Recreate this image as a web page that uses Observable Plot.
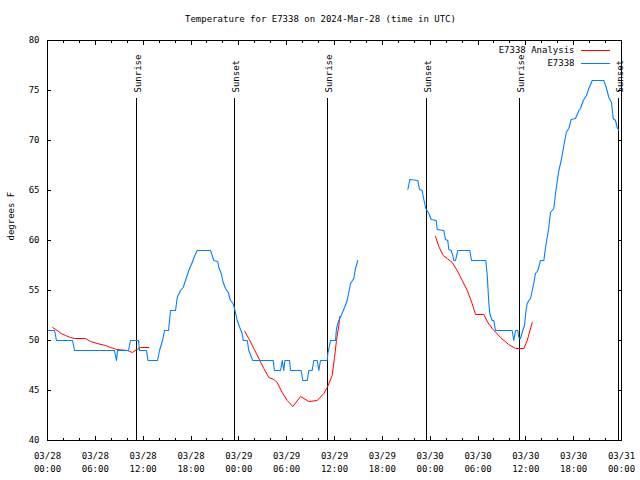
<!DOCTYPE html>
<html>
<head>
<meta charset="utf-8">
<script src="https://cdn.jsdelivr.net/npm/d3@7"></script>
<script src="https://cdn.jsdelivr.net/npm/@observablehq/plot@0.6"></script>
<style>
  html, body { margin: 0; padding: 0; background: #fff; }
</style>
</head>
<body>
<div id="chart"></div>
<script>
// ---------- data ----------
const chartTitle = "Temperature for E7338 on 2024-Mar-28 (time in UTC)";
const yAxisLabel = "degrees F";
const startTime = "2024-03-28T00:00:00Z";
const endTime = "2024-03-31T00:00:00Z";
const yTickValues = [40, 45, 50, 55, 60, 65, 70, 75, 80];
const seriesNames = ["E7338 Analysis", "E7338"];

// sun events, hours after 03/28 00:00 UTC
const sunEventHours = [11.2, 23.5, 35.15, 47.55, 59.25, 71.65];
const sunEventLabels = ["Sunrise", "Sunset", "Sunrise", "Sunset", "Sunrise", "Sunset"];

// station observations (E7338): hours after 03/28 00:00 UTC, degrees F
const obsHours = [
  0.13, 0.88, 1.13, 3.14, 3.39, 8.40, 8.66, 8.78, 10.16, 10.41, 11.41, 11.54, 12.42, 12.6, 13.80,
  14.05, 14.43, 14.68, 15.18, 15.43, 16.06, 16.27, 16.68, 17.02, 17.31, 17.72, 18.15, 18.48, 18.78,
  20.45, 20.66, 20.86, 21.36, 21.49, 21.79, 22.04, 22.33, 22.67, 22.95, 23.29, 23.58, 23.80, 24.12,
  24.42, 24.55, 25.05, 25.25, 25.75, 28.31, 28.47, 29.23, 29.44, 29.64, 29.77, 30.36, 30.48, 31.82,
  32.02, 32.58, 32.78, 33.20, 33.40, 33.83, 34.03, 34.24, 35.09, 35.16, 35.50, 36.13, 36.25, 36.54,
  36.84, 37.26, 37.59, 38.01, 38.42, 38.63, 38.92,
  45.20, 45.45, 46.45, 46.66, 47.00, 47.13, 47.29, 47.45, 47.83, 48.13, 48.76, 48.88, 49.71, 49.92,
  50.21, 50.34, 50.64, 50.84, 50.97, 51.18, 51.47, 52.97, 53.19, 54.98, 55.16, 55.36, 55.48, 55.78,
  55.98, 56.20, 58.29, 58.49, 58.71, 58.99, 59.12, 59.33, 59.62, 59.83, 60.00, 60.17, 60.37, 60.59,
  60.80, 61.00, 61.21, 61.50, 61.84, 62.26, 62.47, 62.68, 62.88, 63.09, 63.51, 63.72, 64.14, 64.44,
  64.77, 65.07, 65.39, 65.69, 66.23, 66.65, 66.86, 67.20, 67.61, 67.90, 68.33, 69.78, 70.12, 70.41,
  70.75, 70.96, 71.25, 71.46, 71.66
];
const obsTemps = [
  51, 51, 50, 50, 49, 49, 48, 49, 49, 50, 50, 49, 49, 48, 48,
  49, 50, 51, 51, 53, 53, 54.3, 55, 55.3, 56, 57, 57.8, 58.5, 59,
  59, 58.5, 58, 57.9, 57.3, 56.7, 55.8, 55.2, 54.8, 54, 53.7, 52.8, 52, 51.3,
  50.7, 50, 50, 49, 48, 48, 47, 47, 48, 47, 48, 48, 47, 47,
  46, 46, 47, 47, 48, 48, 47, 48, 48, 48.7, 50, 50, 51.2, 52,
  52.5, 53.3, 54, 55.7, 56.2, 57.2, 58,
  65.1, 66.1, 66, 65.1, 65, 64.4, 63.8, 63.2, 62.7, 62.1, 62, 61.1, 61, 60.1,
  60, 59.1, 59, 58.5, 58, 58, 59, 59, 58, 58, 56.5, 53.7, 52.7, 52,
  52, 51, 51, 50, 51, 51, 50.3, 50.2, 51, 51.5, 52.9, 53.7, 54, 54.2,
  55, 55.7, 56.7, 57, 58, 58, 59.3, 60.3, 61.3, 62.8, 63.2, 64.7, 67, 68,
  69.5, 70.8, 71.2, 72.1, 72.2, 73, 73.2, 74, 74.5, 75.2, 76, 76, 75.2, 74.3,
  73.8, 72.2, 72, 71.3, 71
];

// analysis (E7338 Analysis): hours after 03/28 00:00 UTC, degrees F
const anaHours = [
  0.66, 1.22, 1.72, 2.26, 2.89, 3.42, 4.77, 5.39, 6.23, 7.28, 7.90, 8.40, 8.66, 10.07, 10.62, 11.25,
  11.67, 12.71,
  24.75, 25.25, 25.88, 26.51, 27.13, 27.76, 28.39, 28.81, 29.44, 30.07, 30.77, 31.74, 32.78, 33.83,
  34.66, 35.09, 35.71, 36.00, 36.25, 36.54, 36.67,
  48.67, 49.08, 49.64, 50.14, 50.76, 51.39, 52.02, 52.65, 53.27, 53.69, 54.73, 55.23, 55.78, 56.82,
  57.85, 58.70, 59.75, 60.17, 60.80
];
const anaTemps = [
  51.3, 51, 50.7, 50.5, 50.3, 50.2, 50.2, 49.9, 49.7, 49.5, 49.3, 49.2, 49.1, 49, 48.8, 49.1,
  49.3, 49.3,
  50.9, 50.2, 49.2, 48.2, 47.2, 46.3, 46.1, 45.8, 44.8, 44, 43.4, 44.4, 43.9, 44,
  44.7, 45.3, 46.5, 48.3, 50, 51.5, 52.4,
  60.4, 59.4, 58.5, 58.2, 57.8, 57, 56, 55, 53.7, 52.6, 52.6, 51.8, 51.2, 50.3,
  49.6, 49.2, 49.2, 50, 51.8
];

// ---------- build ----------
const t0 = Date.parse(startTime);
const toDate = h => new Date(t0 + h * 3600e3);
const GAP_HOURS = 6;
function toSeries(hours, temps) {
  let seg = 0;
  return hours.map((h, i) => {
    if (i > 0 && h - hours[i - 1] > GAP_HOURS) seg++;
    return {time: toDate(h), temp: temps[i], seg};
  });
}
const obs = toSeries(obsHours, obsTemps);
const ana = toSeries(anaHours, anaTemps);
const sunEvents = sunEventHours.map((h, i) => ({time: toDate(h), label: sunEventLabels[i]}));

const RED = "#ff0000";
const BLUE = "#0080ff";
const fmtDay = d3.utcFormat("%m/%d");
const fmtHour = d3.utcFormat("%H:%M");
const every6h = d3.utcHour.every(6);
const every2h = d3.utcHour.every(2);

const legendLines = (index, scales, values, dims) => {
  const g = d3.create("svg:g");
  const xr = dims.width - dims.marginRight;
  const colors = [RED, BLUE];
  colors.forEach((c, i) => {
    g.append("line")
      .attr("x1", xr - 40).attr("x2", xr - 11)
      .attr("y1", dims.marginTop + 10.5 + i * 12.5)
      .attr("y2", dims.marginTop + 10.5 + i * 12.5)
      .attr("stroke", c).attr("stroke-width", 1)
      .attr("shape-rendering", "crispEdges");
  });
  return g.node();
};

const chart = Plot.plot({
  width: 640,
  height: 480,
  marginLeft: 47,
  marginRight: 19,
  marginTop: 40,
  marginBottom: 40,
  style: {fontFamily: "'DejaVu Sans Mono', monospace", fontSize: "9px", background: "#fff", color: "#000"},
  x: {type: "utc", domain: [new Date(startTime), new Date(endTime)], label: null},
  y: {domain: [40, 80], label: null},
  marks: [
    // sunrise / sunset markers
    Plot.ruleX(sunEvents, {x: "time", y1: 40, y2: 74.2, stroke: "#000", strokeWidth: 1, shapeRendering: "crispEdges"}),
    Plot.text(sunEvents, {x: "time", y: 74.8, text: "label", rotate: -90, textAnchor: "start", lineAnchor: "middle", dx: 1.5, fill: "#000"}),
    // data
    Plot.line(ana, {x: "time", y: "temp", z: "seg", stroke: RED, strokeWidth: 1}),
    Plot.line(obs, {x: "time", y: "temp", z: "seg", stroke: BLUE, strokeWidth: 1.1}),
    // frame
    Plot.frame({stroke: "#000", strokeWidth: 1, shapeRendering: "crispEdges"}),
    // inward ticks
    Plot.axisX({anchor: "bottom", ticks: every6h, tickSize: 4, dy: -4, fill: "none", label: null, shapeRendering: "crispEdges"}),
    Plot.axisX({anchor: "bottom", ticks: every2h, tickSize: 2, dy: -2, fill: "none", label: null, shapeRendering: "crispEdges"}),
    Plot.axisX({anchor: "top", ticks: every6h, tickSize: 4, dy: 4, fill: "none", label: null, shapeRendering: "crispEdges"}),
    Plot.axisX({anchor: "top", ticks: every2h, tickSize: 2, dy: 2, fill: "none", label: null, shapeRendering: "crispEdges"}),
    Plot.axisY({anchor: "left", ticks: yTickValues, tickSize: 4, dx: 4, fill: "none", label: null, shapeRendering: "crispEdges"}),
    Plot.axisY({anchor: "right", ticks: yTickValues, tickSize: 4, dx: -4, fill: "none", label: null, shapeRendering: "crispEdges"}),
    // tick labels
    Plot.axisX({anchor: "bottom", ticks: every6h, tickSize: 0, tickPadding: 9, label: null,
      tickFormat: d => fmtDay(d) + "\n" + fmtHour(d), lineHeight: 1.45}),
    Plot.axisY({anchor: "left", ticks: yTickValues, tickSize: 0, tickPadding: 8, label: null}),
    // title and y label
    Plot.text([chartTitle], {frameAnchor: "top", dy: -21, dx: -14, lineAnchor: "middle", text: d => d, fill: "#000"}),
    Plot.text([yAxisLabel], {frameAnchor: "left", dx: -36, rotate: -90, text: d => d, fill: "#000"}),
    // legend
    Plot.text([seriesNames[0]], {frameAnchor: "top-right", dx: -47, dy: 10, lineAnchor: "middle", text: d => d, textAnchor: "end", fill: "#000"}),
    Plot.text([seriesNames[1]], {frameAnchor: "top-right", dx: -47, dy: 22.5, lineAnchor: "middle", text: d => d, textAnchor: "end", fill: "#000"}),
    legendLines
  ]
});
document.getElementById("chart").appendChild(chart);
</script>
</body>
</html>
